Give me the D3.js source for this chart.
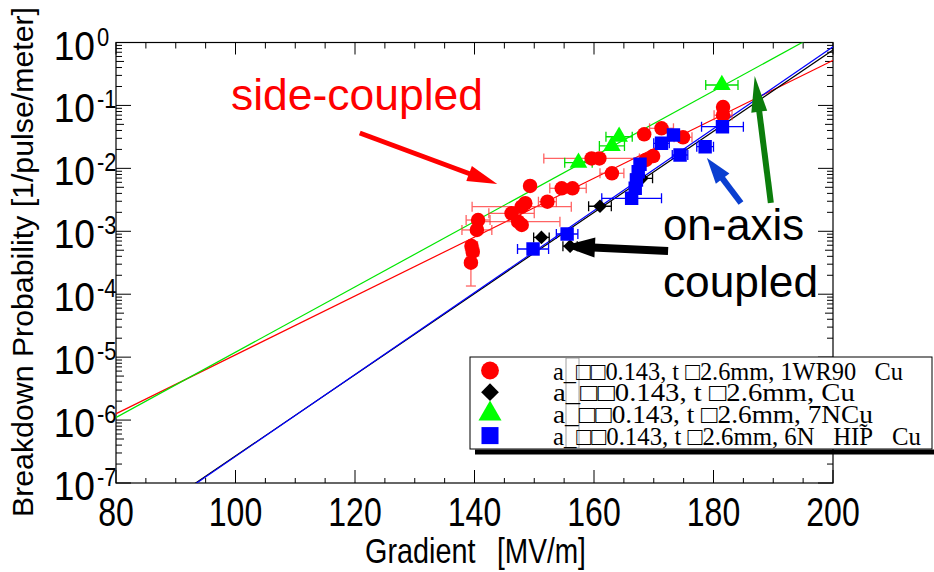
<!DOCTYPE html>
<html><head><meta charset="utf-8">
<script src="https://cdn.jsdelivr.net/npm/d3@7"></script>
<style>body{margin:0;background:#fff}svg{display:block}</style>
</head><body>
<svg id="chart" width="934" height="572"></svg>
<script>
// ---- data (gradient MV/m, probability 1/pulse/m, x-error MV/m) ----
const redE   = [181.6,181.6,171.3,168.4,174.9,169.9,168.7,159.6,160.9,163.0,149.3,154.6,156.4,152.2,148.5,147.9,146.2,147.3,147.9,140.6,140.4,139.5,139.7,139.4];
const redP   = [0.094,0.070,0.0433,0.0348,0.0312,0.0157,0.0136,0.0144,0.0144,0.00835,0.00525,0.00482,0.00482,0.00295,0.00279,0.00246,0.00193,0.00142,0.00126,0.00151,0.00105,0.000583,0.000474,0.000317];
const redErr = [0,1.5,2,0,1.5,0,0,8,0,2,0,2,2.3,1.5,0,8.3,3.8,7,0,2,2.5,1,1,0];
const redYLo = [null,null,null,null,null,null,null,null,null,null,null,null,null,null,null,null,null,null,null,null,null,null,null,0.000135];

const blackE   = [151.2,156.0,161.0,168.0];
const blackP   = [0.00080,0.00058,0.0025,0.00695];
const blackErr = [1.3,1.2,1.9,1.8];

const greenE   = [157.4,163.0,164.2,181.4];
const greenP   = [0.0123,0.0227,0.0318,0.211];
const greenErr = [2.3,2.1,2.2,2.7];

const blueE   = [149.8,155.5,166.3,166.9,167.1,167.4,167.7,171.3,173.3,174.4,178.6,181.5];
const blueP   = [0.000523,0.000905,0.00334,0.00482,0.00653,0.00885,0.0116,0.0250,0.0339,0.0163,0.0221,0.0459];
const blueErr = [2.6,1.8,5,0,0,0,0,1.3,0,1.3,1.4,3.5];

// fit lines: log10(P) = log10(P at 80 MV/m) + slope*(E - 80)
const fitNames = ["red","green","black","blue"];
const fitLog80 = [-5.90,-5.96,-7.86,-7.88];
const fitSlope = [0.0468,0.0519,0.0645,0.0651];

const xTicks = [80,100,120,140,160,180,200];
const yExps  = [0,-1,-2,-3,-4,-5,-6,-7];

// legend labels: [text before tilde-mark, tilde, text after]
const legendLabels = [
  ["a_\u25A1\u25A10.143, t \u25A12.6mm, 1WR90   Cu","",""],
  ["a_\u25A1\u25A10.143, t \u25A12.6mm, Cu","",""],
  ["a_\u25A1\u25A10.143, t \u25A12.6mm, 7NCu","",""],
  ["a_\u25A1\u25A10.143, t \u25A12.6mm, 6N   HIP","\u02DC","   Cu"]
];

// arrows in data coordinates: [tailE, tailP, tipE, tipP]
const arrowRed   = [120.8,0.0365,143.8,0.00564];
const arrowBlack = [172.4,0.000486,154.8,0.000583];
const arrowBlue  = [184.6,0.00282,178.9,0.0146];
const arrowGreen = [189.6,0.00282,186.9,0.294];

// ---- drawing ----
const svg = d3.select("#chart");
const L=116,R=833,T=42.5,B=483;
const x = d3.scaleLinear().domain([80,200]).range([L,R]);
const y = d3.scaleLog().domain([1e-7,1]).range([B,T]);
const colors = {red:"#ff0000",green:"#00ff00",black:"#000000",blue:"#0000ff"};
const lineColors = {red:"#ff0000",green:"#00e600",black:"#000000",blue:"#0000ff"};
const FONT = "Liberation Sans, Arial, sans-serif";

svg.append("defs").append("clipPath").attr("id","clip")
  .append("rect").attr("x",L).attr("y",T).attr("width",R-L).attr("height",B-T);

// frame
svg.append("rect").attr("x",L).attr("y",T).attr("width",R-L).attr("height",B-T)
  .attr("fill","none").attr("stroke","#000").attr("stroke-width",1.2);

// x ticks (bottom & top, inward)
const gx = svg.append("g");
d3.range(80,201,5).forEach(v=>{
  const major = v%20===0;
  gx.append("line").attr("x1",x(v)).attr("x2",x(v)).attr("y1",B).attr("y2",B-(major?13:5)).attr("stroke","#000");
  gx.append("line").attr("x1",x(v)).attr("x2",x(v)).attr("y1",T).attr("y2",T+(major?12:6)).attr("stroke","#000");
});
// y ticks (left & right, inward)
const gy = svg.append("g");
for (let e=-7;e<=0;e++){
  const base = Math.pow(10,e);
  gy.append("line").attr("x1",L).attr("x2",L+15).attr("y1",y(base)).attr("y2",y(base)).attr("stroke","#000");
  gy.append("line").attr("x1",R).attr("x2",R-15).attr("y1",y(base)).attr("y2",y(base)).attr("stroke","#000");
  if (e<0) for (let m=2;m<=9;m++){
    const v = m*base;
    const len = m===5?8:6;
    gy.append("line").attr("x1",L).attr("x2",L+len).attr("y1",y(v)).attr("y2",y(v)).attr("stroke","#000");
    gy.append("line").attr("x1",R).attr("x2",R-len).attr("y1",y(v)).attr("y2",y(v)).attr("stroke","#000");
  }
}

// tick labels
xTicks.forEach(v=>{
  svg.append("text").attr("transform",`translate(${x(v)},${526}) scale(0.8,1)`)
    .attr("text-anchor","middle").attr("font-family",FONT).attr("font-size",40).text(v);
});
yExps.forEach(e=>{
  const ty = y(Math.pow(10,e));
  svg.append("text").attr("transform",`translate(${95},${ty+17}) scale(0.93,1)`)
    .attr("text-anchor","end").attr("font-family",FONT).attr("font-size",40).text("10");
  svg.append("text").attr("transform",`translate(${97},${ty+3}) scale(0.88,1)`)
    .attr("text-anchor","start").attr("font-family",FONT).attr("font-size",25).text(e===0?"0":"-"+(-e));
});

// axis titles
svg.append("text").attr("transform",`translate(${365},${563}) scale(0.8,1)`)
  .attr("font-family",FONT).attr("font-size",36).text("Gradient");
svg.append("text").attr("transform",`translate(${497},${563}) scale(0.78,1)`)
  .attr("font-family",FONT).attr("font-size",36).text("[MV/m]");
svg.append("text").attr("transform",`translate(${33},${262}) rotate(-90)`)
  .attr("text-anchor","middle").attr("font-family",FONT).attr("font-size",30)
  .attr("textLength",510).attr("lengthAdjust","spacingAndGlyphs").text("Breakdown Probability [1/pulse/meter]");

// fit lines
const plot = svg.append("g").attr("clip-path","url(#clip)");
fitNames.forEach((n,i)=>{
  const pts = [70,210].map(E=>[E, Math.pow(10, fitLog80[i]+fitSlope[i]*(E-80))]);
  plot.append("path").attr("d", d3.line().x(d=>x(d[0])).y(d=>y(d[1]))(pts))
    .attr("fill","none").attr("stroke",lineColors[n]).attr("stroke-width",1.2);
});

// error bars
function errbars(E,P,Er,col,op,yLo){
  E.forEach((e,i)=>{
    if (Er[i]>0){
      const yy=y(P[i]);
      const g=plot.append("g").attr("stroke",col).attr("opacity",op).attr("stroke-width",1.3);
      g.append("line").attr("x1",x(e-Er[i])).attr("x2",x(e+Er[i])).attr("y1",yy).attr("y2",yy);
      [e-Er[i],e+Er[i]].forEach(v=>g.append("line").attr("x1",x(v)).attr("x2",x(v)).attr("y1",yy-5).attr("y2",yy+5));
    }
    if (yLo && yLo[i]){
      const g=plot.append("g").attr("stroke",col).attr("opacity",op).attr("stroke-width",1.3);
      g.append("line").attr("x1",x(e)).attr("x2",x(e)).attr("y1",y(P[i])).attr("y2",y(yLo[i]));
      g.append("line").attr("x1",x(e)-5).attr("x2",x(e)+5).attr("y1",y(yLo[i])).attr("y2",y(yLo[i]));
    }
  });
}
errbars(redE,redP,redErr,"#ff3030",0.75,redYLo);
errbars(blackE,blackP,blackErr,"#000",1,null);
errbars(greenE,greenP,greenErr,"#00dd00",1,null);
errbars(blueE,blueP,blueErr,"#0000ff",1,null);

// markers
const sym = {
  red: d3.symbol().type(d3.symbolCircle).size(165),
  black: d3.symbol().type(d3.symbolDiamond2).size(120),
  green: d3.symbol().type(d3.symbolTriangle).size(135),
  blue: d3.symbol().type(d3.symbolSquare).size(180)
};
function markers(E,P,n){
  plot.selectAll(null).data(E.map((e,i)=>[e,P[i]])).join("path")
    .attr("d",sym[n]).attr("transform",d=>`translate(${x(d[0])},${y(d[1])})`)
    .attr("fill",colors[n]);
}
markers(redE,redP,"red");
markers(greenE,greenP,"green");
markers(blackE,blackP,"black");
markers(blueE,blueP,"blue");

// arrows
function arrow(a,col,w,hl,hw){
  const x0=x(a[0]),y0=y(a[1]),x1=x(a[2]),y1=y(a[3]);
  const dx=x1-x0,dy=y1-y0,len=Math.hypot(dx,dy),ux=dx/len,uy=dy/len,px=-uy,py=ux;
  const bx=x1-ux*hl,by=y1-uy*hl;
  svg.append("line").attr("x1",x0).attr("y1",y0).attr("x2",bx+ux*2).attr("y2",by+uy*2)
    .attr("stroke",col).attr("stroke-width",w);
  svg.append("path").attr("d",`M${x1},${y1}L${bx+px*hw/2},${by+py*hw/2}L${bx-px*hw/2},${by-py*hw/2}Z`).attr("fill",col);
}
arrow(arrowRed,"#ff0000",5,30,16);
arrow(arrowBlack,"#000000",8,32,20);
arrow(arrowBlue,"#0a3fd0",6,26,17);
arrow(arrowGreen,"#0b7d0b",6,36,16);

// annotations
svg.append("text").attr("x",231).attr("y",110).attr("fill","#ff0000").attr("font-family",FONT)
  .attr("font-size",44).attr("textLength",252).attr("lengthAdjust","spacingAndGlyphs").text("side-coupled");
svg.append("text").attr("x",663).attr("y",240).attr("fill","#000").attr("font-family",FONT)
  .attr("font-size",44).attr("textLength",141).attr("lengthAdjust","spacingAndGlyphs").text("on-axis");
svg.append("text").attr("x",663).attr("y",297).attr("fill","#000").attr("font-family",FONT)
  .attr("font-size",44).attr("textLength",155).attr("lengthAdjust","spacingAndGlyphs").text("coupled");

// legend
const lg = svg.append("g");
lg.append("line").attr("x1",475).attr("x2",934).attr("y1",452).attr("y2",452).attr("stroke","#000").attr("stroke-width",5);
lg.append("rect").attr("x",470).attr("y",357).attr("width",462).attr("height",92)
  .attr("fill","#fff").attr("stroke","#000").attr("stroke-width",1);
lg.append("rect").attr("x",566).attr("y",358).attr("width",13).attr("height",90)
  .attr("fill","none").attr("stroke","#888").attr("stroke-width",0.8);
const legSym = ["red","black","green","blue"];
const legSize = [250,200,230,290];
const legLen = [350,302,320,376];
const legType = {red:d3.symbolCircle,black:d3.symbolDiamond2,green:d3.symbolTriangle,blue:d3.symbolSquare};
legendLabels.forEach((t,i)=>{
  const yy = 370.5 + i*21.7;
  const s = legSym[i];
  lg.append("path").attr("d",d3.symbol().type(legType[s]).size(legSize[i])())
    .attr("transform",`translate(490,${yy})`).attr("fill",colors[s]);
  const tx = lg.append("text").attr("font-family","Liberation Serif, Times New Roman, serif")
    .style("white-space","pre").attr("font-size",25);
  tx.append("tspan").text(t[0]);
  if (t[1]) {
    tx.append("tspan").attr("dx",-14).attr("dy",-4).text(t[1]);
    tx.append("tspan").attr("dx",6).attr("dy",4).text(t[2]);
  }
  const w = tx.node().getComputedTextLength() || legLen[i];
  tx.attr("transform",`translate(553,${yy+9}) scale(${legLen[i]/w},1)`);
});
</script>
</body></html>
